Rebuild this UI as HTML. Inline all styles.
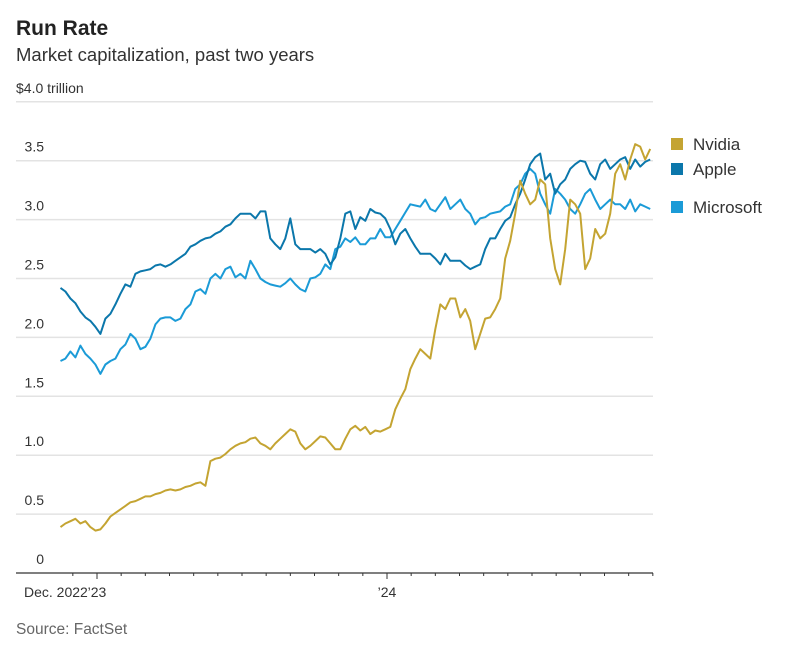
<!DOCTYPE html>
<html><head><meta charset="utf-8"><style>
body{margin:0;background:#fff;width:795px;height:653px;overflow:hidden;font-family:"Liberation Sans",sans-serif;color:#333}
svg{position:absolute;left:0;top:0}
</style></head><body>
<svg id="chart" width="795" height="653" viewBox="0 0 795 653">
<text x="16" y="35" font-size="21" font-weight="bold" fill="#222" font-family="Liberation Sans, sans-serif">Run Rate</text>
<text x="16" y="61" font-size="18.5" fill="#333" font-family="Liberation Sans, sans-serif">Market capitalization, past two years</text>
<g id="grid"></g>
<g id="series"></g>
<g id="xaxis"></g>
<g id="legend"></g>
<text x="16" y="634" font-size="15.5" fill="#666" font-family="Liberation Sans, sans-serif">Source: FactSet</text>
</svg>
<script>
const yTicks=[0,0.5,1.0,1.5,2.0,2.5,3.0,3.5,4.0];
const yTickLabels=["0","0.5","1.0","1.5","2.0","2.5","3.0","3.5","$4.0 trillion"];
const seriesNames=["Nvidia","Apple","Microsoft"];
const startDate="2022-11-16";
const stepDays=6.29;
const apple=[2.42,2.39,2.33,2.29,2.22,2.17,2.14,2.09,2.03,2.16,2.20,2.28,2.37,2.45,2.43,2.54,2.56,2.57,2.58,2.61,2.62,2.60,2.62,2.65,2.68,2.71,2.77,2.79,2.82,2.84,2.85,2.88,2.90,2.94,2.96,3.01,3.05,3.05,3.05,3.01,3.07,3.07,2.84,2.79,2.75,2.84,3.01,2.79,2.75,2.75,2.75,2.72,2.75,2.71,2.62,2.68,2.84,3.05,3.07,2.92,3.02,2.99,3.09,3.06,3.05,3.01,2.92,2.79,2.88,2.92,2.84,2.77,2.71,2.71,2.71,2.67,2.62,2.71,2.65,2.65,2.65,2.61,2.58,2.60,2.62,2.75,2.84,2.84,2.92,2.99,3.02,3.13,3.22,3.34,3.47,3.53,3.56,3.34,3.39,3.22,3.30,3.34,3.43,3.47,3.50,3.49,3.39,3.34,3.47,3.51,3.43,3.47,3.51,3.53,3.43,3.51,3.45,3.49,3.51];
const microsoft=[1.80,1.82,1.88,1.83,1.93,1.86,1.82,1.77,1.69,1.77,1.80,1.82,1.90,1.94,2.03,1.99,1.90,1.92,1.99,2.11,2.16,2.17,2.17,2.14,2.16,2.24,2.28,2.39,2.41,2.37,2.50,2.54,2.50,2.58,2.60,2.51,2.54,2.50,2.65,2.58,2.50,2.47,2.45,2.44,2.43,2.46,2.50,2.45,2.41,2.39,2.50,2.51,2.54,2.62,2.58,2.75,2.77,2.84,2.81,2.85,2.79,2.79,2.84,2.84,2.92,2.85,2.85,2.92,2.99,3.06,3.13,3.12,3.11,3.17,3.09,3.07,3.13,3.19,3.09,3.13,3.17,3.09,3.05,2.96,3.01,3.02,3.05,3.06,3.07,3.11,3.13,3.26,3.30,3.39,3.43,3.39,3.22,3.13,3.05,3.26,3.22,3.17,3.09,3.05,3.13,3.22,3.26,3.17,3.09,3.13,3.17,3.13,3.13,3.09,3.17,3.07,3.13,3.11,3.09];
const nvidia=[0.39,0.42,0.44,0.46,0.42,0.44,0.39,0.36,0.37,0.42,0.48,0.51,0.54,0.57,0.60,0.61,0.63,0.65,0.65,0.67,0.68,0.70,0.71,0.70,0.71,0.73,0.74,0.76,0.77,0.74,0.95,0.97,0.98,1.01,1.05,1.08,1.10,1.11,1.14,1.15,1.10,1.08,1.05,1.10,1.14,1.18,1.22,1.20,1.10,1.05,1.08,1.12,1.16,1.15,1.10,1.05,1.05,1.14,1.22,1.25,1.21,1.24,1.18,1.21,1.20,1.22,1.24,1.39,1.48,1.56,1.73,1.82,1.90,1.86,1.82,2.07,2.28,2.24,2.33,2.33,2.17,2.24,2.14,1.90,2.03,2.16,2.17,2.24,2.33,2.67,2.82,3.05,3.33,3.22,3.13,3.17,3.34,3.30,2.84,2.58,2.45,2.75,3.17,3.13,3.05,2.58,2.67,2.92,2.84,2.88,3.05,3.39,3.47,3.34,3.51,3.64,3.62,3.51,3.60];
const colors=["#c4a432","#0b77ab","#1b9bd7"];

const NS="http://www.w3.org/2000/svg";
const X0=16,X1=653,Y0=573,PXV=117.8;
const jan23=Date.UTC(2023,0,1);
function dayOf(s){const p=s.split("-");return (Date.UTC(+p[0],p[1]-1,+p[2])-jan23)/864e5;}
function xScale(day){return 97+day*290/365;}
function yScale(v){return Y0-v*PXV;}
const grid=document.getElementById("grid");
yTicks.forEach((t,i)=>{
  const y=yScale(t);
  if(i>0){
    const l=document.createElementNS(NS,"line");
    
    
    l.setAttribute("x1",X0);l.setAttribute("x2",X1);l.setAttribute("y1",y);l.setAttribute("y2",y);
    l.setAttribute("stroke","#e3e3e3");l.setAttribute("stroke-width","1.5");
    grid.appendChild(l);
  }
  const tx=document.createElementNS(NS,"text");
  
  
  if(i===yTicks.length-1){tx.setAttribute("x",16);}
  else{tx.setAttribute("x",44);tx.setAttribute("text-anchor","end");}
  tx.setAttribute("y",y-9);tx.setAttribute("font-size","14");tx.setAttribute("fill","#333");
  tx.textContent=yTickLabels[i];
  grid.appendChild(tx);
});
const sg=document.getElementById("series");
const s0=dayOf(startDate);
[microsoft,apple,nvidia].forEach((arr,k)=>{
  const ci=[2,1,0][k];
  const d=arr.map((v,i)=>(i?"L":"M")+xScale(s0+i*stepDays).toFixed(1)+","+yScale(v).toFixed(1)).join("");
  const p=document.createElementNS(NS,"path");
  
  
  p.setAttribute("d",d);p.setAttribute("fill","none");p.setAttribute("stroke",colors[ci]);
  p.setAttribute("stroke-width","2");p.setAttribute("stroke-linejoin","round");
  sg.appendChild(p);
});
const xa=document.getElementById("xaxis");
const ax=document.createElementNS(NS,"line");


ax.setAttribute("x1",X0);ax.setAttribute("x2",X1);ax.setAttribute("y1",Y0);ax.setAttribute("y2",Y0);
ax.setAttribute("stroke","#333");ax.setAttribute("stroke-width","1.2");
xa.appendChild(ax);
for(let m=-1;m<=23;m++){
  const x=97+m*290/12;
  const big=(m%12===0);
  const t=document.createElementNS(NS,"line");
  
  
  t.setAttribute("x1",x);t.setAttribute("x2",x);t.setAttribute("y1",Y0);t.setAttribute("y2",Y0+(big?6:3));
  t.setAttribute("stroke","#333");
  xa.appendChild(t);
}
[["Dec. 2022",24,"start"],["\u201923",97,"middle"],["\u201924",387,"middle"]].forEach(a=>{
  const t=document.createElementNS(NS,"text");
  
  
  t.setAttribute("x",a[1]);t.setAttribute("y",597);t.setAttribute("text-anchor",a[2]);
  t.setAttribute("font-size","14");t.setAttribute("fill","#333");t.textContent=a[0];
  xa.appendChild(t);
});
const lg=document.getElementById("legend");
const ly=[144,169,207];
seriesNames.forEach((n,i)=>{
  const r=document.createElementNS(NS,"rect");
  
  
  r.setAttribute("x",671);r.setAttribute("y",ly[i]-6);r.setAttribute("width",12);r.setAttribute("height",12);
  r.setAttribute("fill",colors[i]);lg.appendChild(r);
  const t=document.createElementNS(NS,"text");
  
  
  t.setAttribute("x",693);t.setAttribute("y",ly[i]+6);t.setAttribute("font-size","17");t.setAttribute("fill","#333");
  t.textContent=n;lg.appendChild(t);
});
</script>
</body></html>
